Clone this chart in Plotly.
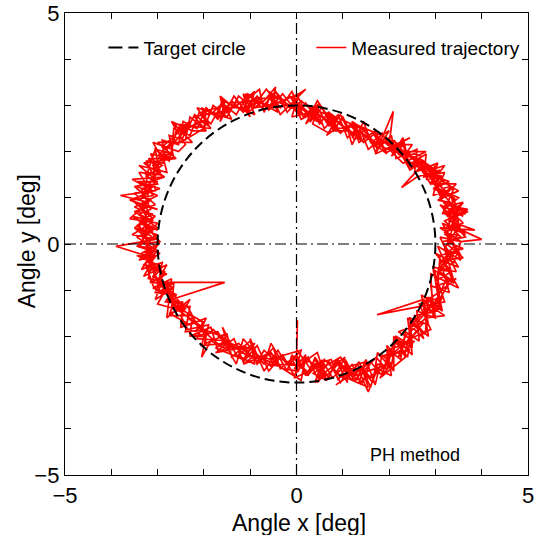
import plotly.graph_objects as go

# ---------------- data ----------------
tick_vals = [-5, -4, -3, -2, -1, 0, 1, 2, 3, 4, 5]
tick_text = ["−5", "", "", "", "", "0", "", "", "", "", "5"]

target_radius = 3.0

# measured trajectory (x, y) in degrees
trajectory = [
    (0.02, -1.65), (0.0, -2.55), (0.28, -2.8), (0.55, -2.52), (0.78, -2.9), (1.05, -2.62),
    (1.25, -2.95), (1.5, -2.7), (1.72, -2.45), (1.95, -2.72), (2.1, -2.1), (2.35, -2.35),
    (2.5, -1.7), (2.78, -1.95), (2.85, -1.15), (3.1, -1.4), (3.05, -0.6), (3.4, -0.8),
    (3.2, -0.1), (3.55, -0.25), (3.2, 0.35), (3.6, 0.45), (3.25, 0.8), (3.5, 1.0),
    (3.05, 1.2), (3.2, 1.55), (2.75, 1.45), (2.8, 1.95), (2.4, 1.7), (2.3, 2.2),
    (1.95, 1.98), (1.7, 2.4), (1.45, 2.2), (1.2, 2.62), (0.95, 2.4), (0.7, 2.85),
    (0.5, 2.6), (0.2, 3.05), (0.05, 2.8), (-0.3, 3.25), (-0.6, 2.9), (-0.85, 3.2),
    (-1.15, 2.85), (-1.4, 3.1), (-1.7, 2.7), (-1.95, 2.95), (-2.15, 2.5), (-2.45, 2.65),
    (-2.55, 2.15), (-2.9, 2.25), (-2.85, 1.75), (-3.25, 1.8), (-3.0, 1.3), (-3.5, 1.25),
    (-3.05, 0.85), (-3.5, 0.7), (-3.0, 0.35), (-3.45, 0.15), (-3.0, -0.15), (-3.3, -0.45),
    (-2.85, -0.6), (-3.05, -1.05), (-2.6, -1.1), (-2.75, -1.55), (-2.25, -1.55), (-2.3, -2.0),
    (-1.85, -1.8), (-1.7, -2.3), (-1.35, -2.05), (-1.15, -2.55), (-0.85, -2.2), (-0.6, -2.75),
    (-0.3, -2.4), (-0.05, -2.85),
    (0.25, -2.45), (0.45, -2.9), (0.7, -2.55), (0.95, -3.0), (1.2, -2.6), (1.4, -3.05),
    (1.6, -2.55), (1.85, -2.85), (2.0, -2.3), (2.25, -2.5), (2.35, -1.9), (2.65, -2.1),
    (2.6, -1.45), (3.0, -1.6), (2.9, -0.9), (3.3, -1.05), (3.1, -0.35), (3.5, -0.5),
    (3.15, 0.05), (3.65, 0.15), (3.3, 0.55), (3.7, 0.7), (3.1, 0.95), (3.45, 1.3),
    (2.9, 1.3), (3.05, 1.75), (2.55, 1.55), (2.6, 2.05), (2.15, 1.85), (2.05, 2.35),
    (1.7, 2.0), (1.5, 2.5), (1.25, 2.25), (1.0, 2.75), (0.8, 2.45), (0.55, 2.95),
    (0.3, 2.65), (0.05, 3.15), (-0.2, 2.85), (-0.45, 3.3), (-0.75, 2.95), (-1.05, 3.25),
    (-1.3, 2.8), (-1.6, 3.05), (-1.85, 2.6), (-2.1, 2.85), (-2.3, 2.35), (-2.65, 2.5),
    (-2.7, 1.95), (-3.05, 2.05), (-2.95, 1.5), (-3.4, 1.55), (-3.1, 1.05), (-3.55, 0.95),
    (-3.1, 0.55), (-3.45, 0.4), (-3.05, 0.1), (-3.9, -0.05), (-3.1, -0.3), (-3.2, -0.75),
    (-2.7, -0.85), (-3.17, -0.83), (-1.55, -0.83), (-2.85, -1.25), (-2.45, -1.3), (-2.5, -1.8),
    (-2.05, -1.65), (-1.95, -2.15), (-1.5, -1.95), (-1.4, -2.45), (-1.0, -2.1), (-0.85, -2.6),
    (-0.5, -2.25), (-0.35, -2.7), (0.0, -2.4),
    (0.2, -2.85), (0.4, -2.5), (0.65, -2.95), (0.9, -2.5), (1.15, -2.85), (1.35, -2.55),
    (1.6, -3.1), (1.75, -2.6), (2.05, -2.65), (2.15, -2.0), (2.5, -2.2), (2.45, -1.6),
    (2.85, -1.75), (2.75, -1.2), (1.74, -1.53), (3.2, -1.25), (2.95, -0.5), (3.45, -0.6),
    (3.1, 0.15), (3.55, 0.05), (4.0, 0.1), (3.35, 0.4), (3.55, 0.85), (3.15, 0.65),
    (3.4, 1.2), (2.95, 1.05), (3.1, 1.6), (2.6, 1.45), (2.27, 1.22), (2.75, 1.75),
    (2.35, 1.95), (2.5, 2.15), (2.0, 2.15), (2.09, 2.87), (1.85, 2.3), (1.55, 2.05),
    (1.35, 2.55), (1.1, 2.3), (0.9, 2.8), (0.6, 2.5), (0.4, 3.0), (0.15, 2.75),
    (-0.1, 3.3), (-0.35, 2.95), (-0.65, 3.35), (-0.95, 2.95), (-1.25, 3.2), (-1.5, 2.75),
    (-1.8, 3.0), (-2.0, 2.5), (-2.3, 2.75), (-2.4, 2.25), (-2.75, 2.35), (-2.65, 1.85),
    (-3.15, 1.95), (-2.9, 1.45), (-3.55, 1.4), (-3.1, 1.15), (-3.8, 1.05), (-3.2, 0.9),
    (-3.6, 0.55), (-3.0, 0.45), (-3.4, 0.0), (-2.95, 0.05), (-3.35, -0.55), (-2.9, -0.4),
    (-3.0, -0.95), (-2.65, -0.85), (-2.7, -1.4), (-2.3, -1.35), (-2.4, -1.9), (-1.95, -1.85),
    (-2.05, -2.2), (-1.55, -2.15), (-1.3, -2.6), (-1.15, -2.05), (-0.7, -2.6), (-0.55, -2.15),
    (-0.2, -2.75),
    # loop A
    (-0.1, -2.4), (0.25, -2.85), (0.4, -2.45), (0.7, -2.9), (0.85, -2.5), (1.2, -2.95),
    (1.3, -2.6), (1.65, -3.0), (1.75, -2.35), (2.1, -2.75), (2.1, -2.0), (2.5, -2.4),
    (2.4, -1.6), (2.85, -2.0), (2.7, -1.1), (3.15, -1.45), (2.95, -0.55), (3.4, -0.85),
    (3.05, -0.05), (3.55, -0.35), (3.15, 0.45), (3.65, 0.2), (3.1, 0.85), (3.6, 0.6),
    (3.0, 1.25), (3.45, 0.95), (2.7, 1.6), (3.2, 1.35), (2.4, 1.95), (2.85, 1.6),
    (2.0, 2.2), (2.4, 1.8), (1.65, 2.4), (1.95, 1.95), (1.15, 2.6), (1.45, 2.2),
    (0.65, 2.85), (0.95, 2.4), (0.25, 3.0), (0.55, 2.6), (-0.15, 3.2), (0.15, 2.8),
    (-0.6, 3.3), (-0.4, 2.85), (-1.1, 3.25), (-0.9, 2.8), (-1.6, 3.1), (-1.4, 2.7),
    (-2.15, 2.95), (-1.85, 2.5), (-2.65, 2.6), (-2.25, 2.2), (-3.0, 2.2), (-2.6, 1.85),
    (-3.3, 1.75), (-2.85, 1.45), (-3.45, 1.25), (-3.0, 1.05), (-3.5, 0.8), (-3.05, 0.6),
    (-3.5, 0.35), (-3.0, 0.2), (-3.45, -0.05), (-2.95, -0.2), (-3.3, -0.45), (-2.8, -0.65),
    (-3.1, -0.8), (-2.6, -1.1), (-2.8, -1.2), (-2.35, -1.5), (-2.35, -1.6), (-1.9, -1.95),
    (-1.8, -1.85), (-1.4, -2.25), (-1.25, -2.15), (-0.85, -2.55), (-0.7, -2.3), (-0.3, -2.7),
    # loop B
    (0.05, -2.75), (-0.1, -2.5), (0.3, -2.55), (0.55, -2.85), (0.4, -2.6), (0.75, -2.5),
    (0.9, -2.95), (1.1, -2.6), (0.95, -2.7), (1.5, -2.55), (1.35, -3.0), (1.7, -2.8),
    (1.85, -2.8), (2.05, -2.35), (1.8, -2.45), (2.45, -2.3), (2.15, -2.1), (2.4, -2.45),
    (2.5, -1.65), (2.75, -1.95), (2.6, -1.7), (3.05, -1.2), (2.8, -1.45), (3.1, -1.4),
    (3.0, -0.8), (3.35, -0.6), (3.1, -0.5), (3.45, -0.15), (3.2, -0.3), (3.4, -0.05),
    (3.2, 0.25), (3.55, 0.4), (3.3, 0.1), (3.5, 0.8), (3.25, 0.6), (3.45, 0.55),
    (3.1, 1.0), (3.35, 1.25), (3.15, 1.2), (3.05, 1.4), (2.85, 1.65), (3.1, 1.55),
    (2.5, 1.7), (2.7, 1.9), (2.55, 1.95), (2.25, 1.9), (2.1, 2.15), (2.35, 2.1),
    (1.9, 2.3), (1.75, 2.05), (1.6, 2.3), (1.4, 2.5), (1.2, 2.3), (1.3, 2.55),
    (0.9, 2.5), (0.75, 2.75), (0.7, 2.55), (0.45, 2.95), (0.3, 2.7), (0.5, 2.75),
    (0.1, 3.1), (-0.05, 2.9), (0.05, 3.05), (-0.45, 2.95), (-0.6, 3.2), (-0.35, 3.15),
    (-0.95, 3.15), (-1.1, 2.9), (-0.85, 3.1), (-1.45, 3.05), (-1.6, 2.8), (-1.55, 3.0),
    (-2.05, 2.85), (-1.9, 2.6), (-2.1, 2.65), (-2.35, 2.5), (-2.55, 2.3), (-2.4, 2.55),
    (-2.9, 2.1), (-2.7, 1.95), (-2.95, 1.9), (-3.1, 1.7), (-2.95, 1.5), (-3.2, 1.55),
    (-3.3, 1.05), (-3.1, 1.25), (-3.35, 1.2), (-3.15, 0.75), (-3.4, 0.65), (-3.2, 0.55),
    (-3.35, 0.25), (-3.1, 0.4), (-3.3, 0.15), (-3.05, -0.05), (-3.35, -0.2), (-3.15, -0.15),
    (-3.2, -0.6), (-2.95, -0.45), (-3.1, -0.7), (-2.75, -0.9), (-3.0, -1.05), (-2.8, -1.0),
    (-2.6, -1.45), (-2.45, -1.25), (-2.7, -1.3), (-2.0, -1.7), (-2.2, -1.9), (-2.05, -1.85),
    (-1.65, -2.2), (-1.5, -1.95), (-1.7, -2.0), (-1.0, -2.45), (-1.15, -2.2), (-0.95, -2.3),
    (-0.55, -2.65), (-0.45, -2.4), (-0.6, -2.5),
    # loop C
    (0.1, -2.3), (-0.05, -2.9), (0.6, -2.6), (0.45, -3.0), (0.65, -2.75), (1.05, -2.45),
    (0.85, -2.8), (1.55, -3.1), (1.4, -2.65), (1.25, -2.85), (2.0, -2.6), (1.95, -2.3),
    (2.55, -2.1), (2.2, -2.45), (2.35, -2.0), (2.45, -1.9), (2.8, -1.6), (3.2, -1.55),
    (2.75, -1.25), (3.0, -1.1), (3.45, -0.75), (3.05, -0.9), (3.1, -0.25), (3.6, -0.1),
    (3.25, 0.05), (3.55, 0.15), (3.2, 0.5), (3.7, 0.75), (3.2, 0.85), (3.4, 0.65),
    (3.35, 1.05), (3.05, 1.15), (3.0, 1.7), (2.8, 1.4), (3.15, 1.45), (2.75, 1.75),
    (2.45, 1.65), (2.3, 2.3), (2.05, 1.9), (2.15, 2.0), (1.85, 2.1), (1.7, 2.45),
    (1.35, 2.2), (1.2, 2.65), (1.5, 2.45), (0.85, 2.75), (0.7, 2.4), (0.35, 2.6),
    (0.5, 3.05), (0.3, 2.85), (-0.1, 2.75), (0.05, 3.25), (-0.55, 3.0), (-0.45, 3.4),
    (-0.7, 3.1), (-1.05, 2.85), (-0.9, 3.3), (-1.35, 2.95), (-1.65, 3.2), (-1.55, 2.75),
    (-1.95, 2.9), (-2.0, 2.5), (-2.5, 2.2), (-2.3, 2.65), (-2.6, 2.45), (-2.75, 1.8),
    (-3.05, 2.05), (-3.25, 1.45), (-2.9, 1.7), (-3.1, 1.8), (-3.05, 1.15), (-3.5, 1.1),
    (-3.3, 0.9), (-3.1, 0.5), (-3.55, 0.6), (-3.0, 0.3), (-3.4, 0.45), (-3.3, 0.05),
    (-3.05, -0.3), (-3.45, -0.25), (-2.9, -0.5), (-3.15, -0.8), (-2.65, -0.95), (-3.05, -1.2),
    (-2.9, -0.8), (-2.4, -1.4), (-2.75, -1.5), (-2.3, -1.75), (-1.95, -1.6), (-2.15, -2.05),
    (-1.45, -2.1), (-1.75, -2.25), (-1.15, -2.5), (-0.9, -2.15), (-1.2, -2.35), (-0.4, -2.6),
    (-0.65, -2.35),
    # loop D
    (0.15, -2.7), (0.2, -2.45), (0.5, -2.75), (0.6, -2.5), (1.0, -2.9), (1.15, -2.7),
    (1.45, -2.7), (1.6, -2.9), (1.9, -2.65), (2.0, -2.45), (2.25, -2.3), (2.35, -2.15),
    (2.65, -1.85), (2.5, -1.75), (2.85, -1.35), (3.0, -1.25), (3.25, -0.75), (3.1, -0.6),
    (3.35, -0.25), (3.2, -0.1), (3.45, 0.3), (3.3, 0.35), (3.3, 0.75), (3.45, 0.85),
    (3.25, 1.15), (3.1, 1.05), (2.9, 1.45), (3.0, 1.6), (2.65, 1.85), (2.55, 1.7),
    (2.2, 1.95), (2.25, 2.1), (1.8, 2.25), (1.85, 2.1), (1.35, 2.45), (1.25, 2.35),
    (0.8, 2.7), (0.85, 2.55), (0.4, 2.85), (0.35, 2.75), (0.0, 3.05), (-0.05, 2.95),
    (-0.5, 3.1), (-0.55, 3.0), (-1.0, 3.1), (-1.05, 2.95), (-1.5, 2.95), (-1.45, 2.85),
    (-2.0, 2.8), (-1.95, 2.7), (-2.45, 2.45), (-2.5, 2.35), (-2.8, 2.05), (-2.85, 1.95),
    (-3.05, 1.65), (-3.0, 1.55), (-3.25, 1.2), (-3.2, 1.1), (-3.3, 0.75), (-3.25, 0.65),
    (-3.25, 0.35), (-3.3, 0.25), (-3.2, -0.05), (-3.25, -0.15), (-3.05, -0.5), (-3.1, -0.6),
    (-2.9, -0.9), (-2.85, -1.0), (-2.55, -1.3), (-2.6, -1.4), (-2.1, -1.75), (-2.15, -1.8),
    (-1.6, -2.0), (-1.55, -2.1), (-1.05, -2.3), (-1.1, -2.4), (-0.5, -2.5), (-0.45, -2.6),
    # loop E
    (0.1, -2.95), (0.2, -2.4), (-0.05, -2.7), (0.45, -2.35), (0.65, -2.95), (0.35, -2.8),
    (0.95, -2.45), (1.2, -2.8), (0.85, -3.05), (1.6, -2.55), (1.35, -2.75), (1.55, -3.2),
    (1.75, -2.7), (2.05, -2.85), (1.95, -2.2), (2.1, -2.35), (2.45, -2.05), (2.2, -1.9),
    (2.75, -1.7), (2.45, -2.05), (2.9, -1.85), (2.65, -1.3), (3.15, -1.15), (2.95, -1.55),
    (2.9, -0.65), (3.5, -0.95), (3.2, -0.45), (3.0, -0.2), (3.4, -0.4), (3.55, 0.05),
    (3.1, 0.35), (3.85, 0.3), (3.3, 0.5), (3.6, 0.9), (3.15, 0.8), (3.5, 0.45),
    (3.4, 1.0), (2.95, 1.2), (3.3, 1.35), (2.75, 1.55), (3.2, 1.7), (2.9, 1.3),
    (2.7, 1.6), (2.4, 2.0), (2.8, 2.0), (2.3, 1.75), (2.0, 2.05), (2.45, 2.3),
    (1.7, 1.95), (2.0, 2.45), (1.6, 2.2), (1.45, 2.65), (1.2, 2.15), (1.1, 2.5),
    (0.95, 2.8), (0.65, 2.35), (0.85, 2.5), (0.45, 3.1), (0.2, 2.6), (0.5, 2.9),
    (0.1, 2.7), (-0.1, 3.15), (0.2, 3.35), (-0.35, 2.8), (-0.55, 3.25), (-0.7, 2.85),
    (-0.8, 3.35), (-1.15, 3.05), (-1.0, 2.75), (-1.35, 3.2), (-1.65, 2.65), (-1.55, 3.1),
    (-1.8, 2.85), (-2.2, 2.75), (-1.95, 2.45), (-2.25, 2.45), (-2.7, 2.65), (-2.4, 2.15),
    (-2.55, 2.0), (-3.1, 2.2), (-2.85, 1.75), (-2.8, 1.55), (-3.4, 1.7), (-3.0, 1.35),
    (-3.45, 1.35), (-2.95, 1.2), (-3.6, 0.95), (-3.0, 0.75), (-3.4, 0.85), (-3.15, 0.45),
    (-3.55, 0.2), (-3.0, 0.1), (-3.3, 0.45), (-2.95, 0.05), (-3.4, -0.35), (-3.05, -0.25),
    (-3.3, -0.7), (-2.8, -0.45), (-3.0, -0.8), (-2.65, -1.15), (-3.1, -0.95), (-2.7, -0.75),
    (-2.8, -1.6), (-2.3, -1.2), (-2.5, -1.55), (-2.35, -1.85), (-1.9, -1.75), (-2.05, -2.45),
    (-1.85, -2.1), (-1.45, -2.3), (-1.6, -1.8), (-1.3, -2.4), (-0.9, -2.6), (-1.0, -2.05),
    (-0.7, -2.75), (-0.4, -2.3), (-0.25, -2.55),
    # loop F
    (-0.15, -2.6), (0.05, -2.35), (0.3, -2.7), (0.55, -2.55), (0.4, -3.0), (0.7, -2.8),
    (0.9, -2.6), (1.1, -3.0), (1.05, -2.5), (1.3, -2.95), (1.5, -2.5), (1.7, -3.05),
    (1.85, -2.4), (2.05, -2.6), (1.8, -2.9), (2.35, -2.45), (2.15, -2.05), (2.5, -2.25),
    (2.45, -1.75), (2.75, -2.05), (2.55, -1.55), (3.05, -1.45), (2.8, -1.15), (2.9, -1.5),
    (3.3, -0.85), (3.05, -0.55), (3.35, -0.6), (3.15, -0.35), (3.6, -0.3), (3.25, 0.0),
    (3.5, 0.2), (3.2, 0.2), (3.45, 0.55), (3.2, 0.65), (3.65, 0.65), (3.3, 0.9),
    (3.05, 0.95), (3.5, 1.15), (3.15, 1.35), (3.1, 1.45), (2.8, 1.7), (3.0, 1.35),
    (2.5, 1.9), (2.75, 1.8), (2.45, 1.6), (2.1, 2.25), (2.35, 1.95), (2.05, 2.05),
    (1.85, 2.4), (1.65, 2.1), (1.95, 2.3), (1.25, 2.6), (1.4, 2.3), (1.15, 2.45),
    (0.8, 2.45), (0.7, 2.85), (0.9, 2.7), (0.3, 2.95), (0.45, 2.65), (0.25, 2.8),
    (-0.05, 3.1), (0.1, 2.9), (-0.15, 2.95), (-0.45, 3.3), (-0.6, 2.9), (-0.4, 3.05),
    (-0.9, 2.95), (-1.15, 3.25), (-1.05, 2.85), (-1.4, 3.0), (-1.6, 3.15), (-1.7, 2.75),
    (-2.05, 2.95), (-1.9, 2.55), (-2.2, 2.8), (-2.3, 2.6), (-2.6, 2.4), (-2.5, 2.6),
    (-2.7, 2.2), (-2.95, 1.95), (-2.65, 1.85), (-3.2, 1.85), (-2.95, 1.6), (-3.25, 1.5),
    (-3.05, 1.3), (-3.35, 1.05), (-3.15, 0.95), (-3.45, 0.7), (-3.1, 0.65), (-3.4, 0.5),
    (-3.1, 0.25), (-3.5, 0.35), (-3.2, 0.1), (-3.4, -0.05), (-3.05, -0.1), (-3.3, -0.3),
    (-2.95, -0.6), (-3.25, -0.45), (-3.1, -0.9), (-2.9, -1.1), (-2.75, -0.85), (-3.0, -1.3),
    (-2.45, -1.45), (-2.65, -1.2), (-2.35, -1.35), (-2.2, -1.65), (-1.95, -2.0), (-2.25, -2.0),
    (-1.7, -1.9), (-1.5, -2.25), (-1.75, -2.35), (-1.2, -2.25), (-0.95, -2.45), (-1.15, -2.6),
    (-0.55, -2.35), (-0.35, -2.65), (-0.6, -2.6), (0.0, -2.62),
]
traj_x = [p[0] for p in trajectory]
traj_y = [p[1] for p in trajectory]

FONT = "Liberation Sans, Arial, Helvetica, sans-serif"

fig = go.Figure()

# legend proxy for the target circle (circle itself drawn as a shape in data coords)
fig.add_trace(go.Scatter(
    x=[None], y=[None], mode="lines", name="Target circle",
    line=dict(color="black", width=2, dash="14px,6px"), legend="legend",
))
fig.add_trace(go.Scatter(
    x=traj_x, y=traj_y, mode="lines", name="Measured trajectory",
    line=dict(color="#ff0000", width=1.7), legend="legend2",
))

# target circle
fig.add_shape(type="circle", xref="x", yref="y",
              x0=-target_radius, y0=-target_radius, x1=target_radius, y1=target_radius,
              line=dict(color="black", width=2, dash="10px,5px"), layer="above")
# dash-dot cross lines
fig.add_shape(type="line", xref="x", yref="y", x0=0, x1=0, y0=-5, y1=5,
              line=dict(color="black", width=1.2, dash="11px,4px,2px,4px"), layer="above")
fig.add_shape(type="line", xref="x", yref="y", x0=-5, x1=5, y0=0, y1=0,
              line=dict(color="black", width=1.2, dash="11px,4px,2px,4px"), layer="above")

fig.add_annotation(text="PH method", xref="paper", yref="paper", x=0.757, y=0.043,
                   xanchor="center", yanchor="middle", showarrow=False,
                   font=dict(family=FONT, size=18, color="black"))
# axis titles
fig.add_annotation(text="Angle x [deg]", xref="paper", yref="paper", x=0.505, y=-0.104,
                   xanchor="center", yanchor="middle", showarrow=False,
                   font=dict(family=FONT, size=23, color="black"))
fig.add_annotation(text="Angle y [deg]", xref="paper", yref="paper", x=-0.083, y=0.505,
                   xanchor="center", yanchor="middle", showarrow=False, textangle=-90,
                   font=dict(family=FONT, size=23, color="black"))

axis_common = dict(
    range=[-5, 5], tickmode="array", tickvals=tick_vals, ticktext=tick_text,
    ticks="inside", ticklen=6, tickwidth=1.3, tickcolor="black",
    showline=True, linewidth=1.3, linecolor="black", mirror="ticks",
    showgrid=False, zeroline=False, automargin=False,
    tickfont=dict(family=FONT, size=22, color="black"),
)

fig.update_layout(
    width=547, height=535,
    margin=dict(l=65, r=19, t=13, b=60, autoexpand=False),
    plot_bgcolor="white", paper_bgcolor="white",
    xaxis=dict(**axis_common),
    yaxis=dict(**axis_common),
    legend=dict(x=0.083, y=0.925, xanchor="left", yanchor="middle", bgcolor="rgba(0,0,0,0)",
                font=dict(family=FONT, size=19, color="black"), borderwidth=0),
    legend2=dict(x=0.532, y=0.925, xanchor="left", yanchor="middle", bgcolor="rgba(0,0,0,0)",
                 font=dict(family=FONT, size=19, color="black"), borderwidth=0),
    showlegend=True,
)

fig.write_html("out.html", config={"displayModeBar": False},
               post_script="document.body.style.margin='0';")
